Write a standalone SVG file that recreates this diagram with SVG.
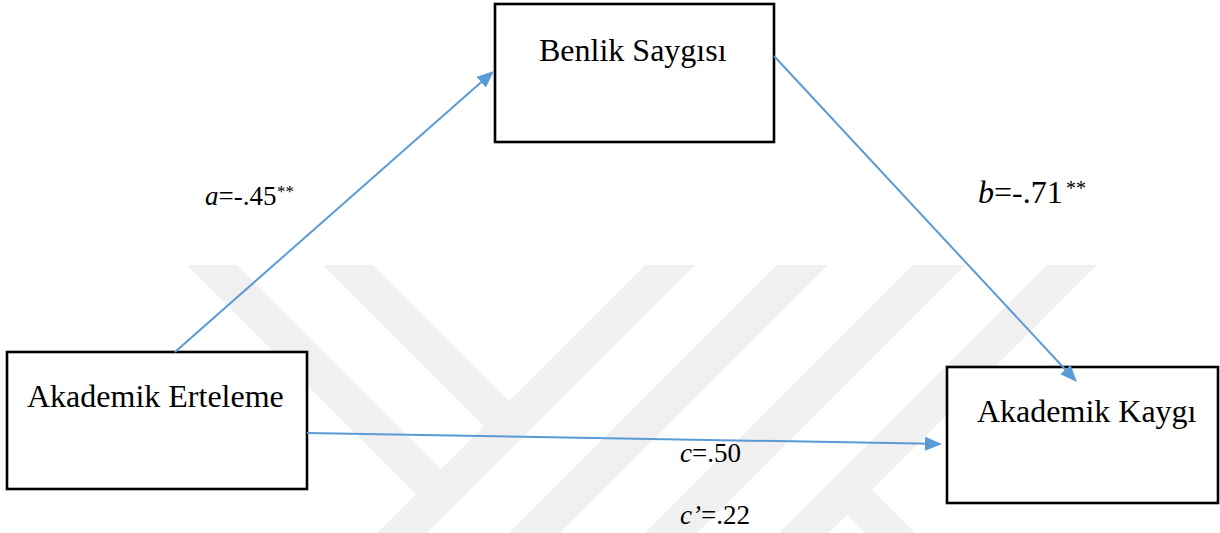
<svg xmlns="http://www.w3.org/2000/svg" width="1220" height="533" viewBox="0 0 1220 533">
  <defs>
    <style>
      .wm { fill: #F0F0F0; stroke: none; }
      .box { fill: #FFFFFF; stroke: #000000; stroke-width: 2.6; }
      .lbl { font-family: "Liberation Serif", "Times New Roman", serif; fill: #000000; }
      .node-text { font-size: 32px; }
      .edge { fill: none; stroke: #5B9BD5; stroke-width: 2; }
      .it { font-style: italic; }
    </style>
    <marker id="arrow" markerUnits="userSpaceOnUse" viewBox="0 0 17 14" refX="7" refY="7" markerWidth="17" markerHeight="14" orient="auto">
      <path d="M0,0 L17,7 L0,14 Z" fill="#5B9BD5"/>
    </marker>
  </defs>

  <rect x="0" y="0" width="1220" height="533" fill="#FFFFFF"/>

  <g id="watermark">
    <polygon class="wm" points="187,265 237,265 466,494 441,519"/>
    <polygon class="wm" points="323,265 373,265 534,426 509,451"/>
    <polygon class="wm" points="645,265 695,265 427,533 377,533"/>
    <polygon class="wm" points="777,265 828,265 560,533 509,533"/>
    <polygon class="wm" points="913,265 965,265 697,533 645,533"/>
    <polygon class="wm" points="1047,265 1097,265 829,533 779,533"/>
    <polygon class="wm" points="872,490 915,533 865,533 835,503"/>
  </g>

  <g id="node-benlik">
    <rect class="box" x="495" y="4" width="279" height="138"/>
    <text class="lbl node-text" x="539" y="61">Benlik Saygısı</text>
  </g>

  <g id="node-erteleme">
    <rect class="box" x="7" y="352" width="300" height="137"/>
    <text class="lbl node-text" x="27" y="407">Akademik Erteleme</text>
  </g>

  <g id="node-kaygi">
    <rect class="box" x="947" y="367" width="271" height="136"/>
    <text class="lbl node-text" x="977" y="422">Akademik Kaygı</text>
  </g>

  <g id="connectors">
    <line class="edge" x1="175" y1="352" x2="486.5" y2="77.6" marker-end="url(#arrow)"/>
    <line class="edge" x1="774" y1="56" x2="1070.2" y2="374.7" marker-end="url(#arrow)"/>
    <line class="edge" x1="307" y1="433" x2="932" y2="443.8" stroke-width="2.5" marker-end="url(#arrow)"/>
  </g>

  <g id="labels">
    <text class="lbl" x="205" y="205" font-size="27"><tspan class="it">a</tspan>=-.45</text>
    <text class="lbl" x="277" y="197" font-size="17">**</text>
    <text class="lbl" x="978" y="203" font-size="32"><tspan class="it">b</tspan>=-.71</text>
    <text class="lbl" x="1066" y="195" font-size="20">**</text>
    <text class="lbl" x="680" y="462" font-size="27"><tspan class="it">c</tspan>=.50</text>
    <text class="lbl" x="680" y="524" font-size="27"><tspan class="it">c’</tspan>=.22</text>
  </g>
</svg>
